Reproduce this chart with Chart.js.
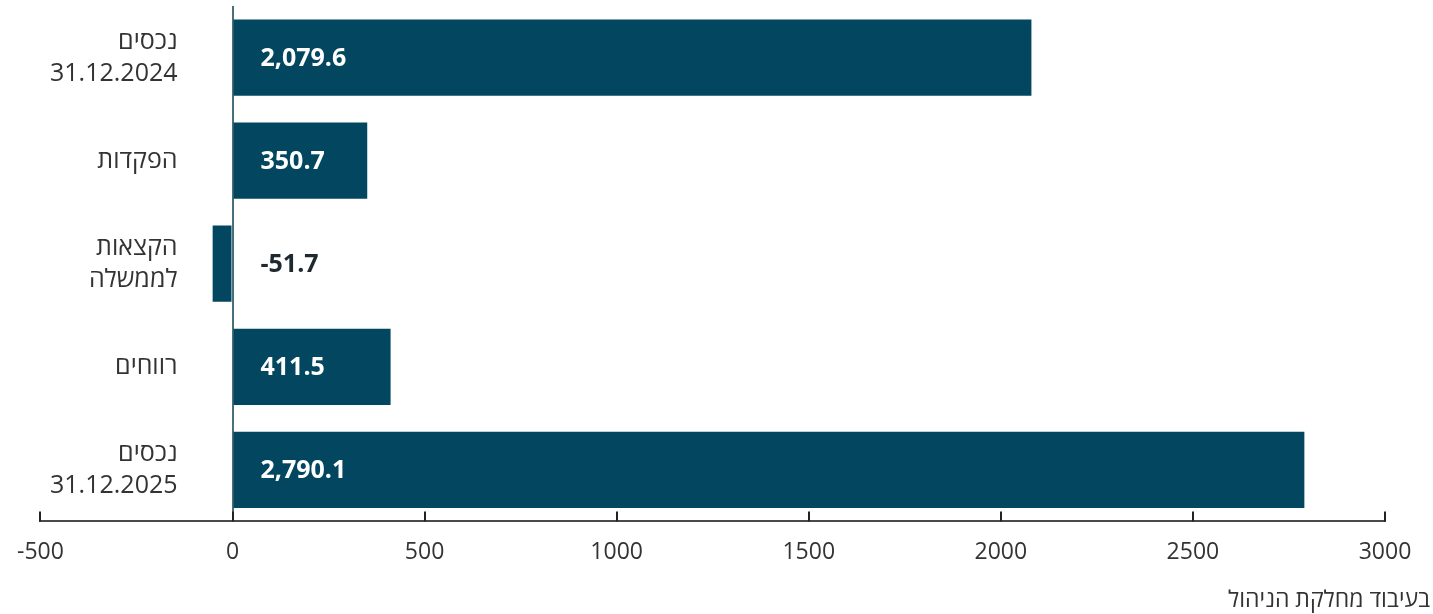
<!DOCTYPE html>
<html>
<head>
<meta charset="utf-8">
<script src="https://cdn.jsdelivr.net/npm/chart.js@4.4.1/dist/chart.umd.min.js"></script>
<style>
html, body { margin: 0; padding: 0; background: #fff; }
#wrap { position: relative; width: 1433px; height: 614px; }
#note { position: absolute; right: 3px; bottom: 0px; font: 23px "Open Sans", "DejaVu Sans", sans-serif; color: #333; direction: rtl; }
</style>
</head>
<body>
<div id="wrap">
  <canvas id="flowChart" width="1433" height="614"></canvas>
  <div id="note">בעיבוד מחלקת הניהול</div>
</div>
<script>
// data
const categories = [['נכסים', '31.12.2024'], ['הפקדות'], ['הקצאות', 'לממשלה'], ['רווחים'], ['נכסים', '31.12.2025']];
const values = [2079.6, 350.7, -51.7, 411.5, 2790.1];
const valueLabels = ['2,079.6', '350.7', '-51.7', '411.5', '2,790.1'];
const xTicks = [-500, 0, 500, 1000, 1500, 2000, 2500, 3000];

const barColor = '#02475f';
const textColor = '#333333';
const fontFamily = '"Open Sans", "DejaVu Sans", sans-serif';

// category names, value labels and inward tick marks
const labelPlugin = {
    id: 'labelPlugin',
    afterDatasetsDraw(chart) {
        const ctx = chart.ctx;
        const x = chart.scales.x;
        const y = chart.scales.y;
        const zero = x.getPixelForValue(0);
        ctx.save();
        ctx.direction = 'ltr';

        // tick marks pointing up from the axis line
        ctx.strokeStyle = '#222';
        ctx.lineWidth = 2;
        x.ticks.forEach(t => {
            const px = Math.round(x.getPixelForValue(t.value));
            ctx.beginPath();
            ctx.moveTo(px, x.top - 10);
            ctx.lineTo(px, x.top);
            ctx.stroke();
        });

        // category labels, right aligned left of the zero line
        ctx.font = '25px ' + fontFamily;
        ctx.fillStyle = textColor;
        ctx.textAlign = 'right';
        ctx.textBaseline = 'middle';
        categories.forEach((lines, i) => {
            const cy = y.getPixelForValue(i);
            const lh = 32;
            const start = cy - (lines.length - 1) * lh / 2;
            lines.forEach((line, j) => ctx.fillText(line, zero - 55, start + j * lh));
        });

        // value labels
        ctx.font = 'bold 25px ' + fontFamily;
        ctx.textAlign = 'left';
        values.forEach((v, i) => {
            ctx.fillStyle = v < 0 ? '#1f2a30' : '#ffffff';
            ctx.fillText(valueLabels[i], zero + 28, y.getPixelForValue(i) + 1);
        });
        ctx.restore();
    }
};

const ctx = document.getElementById('flowChart').getContext('2d');
const flowChart = new Chart(ctx, {
    type: 'bar',
    data: {
        labels: categories,
        datasets: [{
            data: values,
            backgroundColor: barColor,
            borderWidth: 0,
            barPercentage: 0.74,
            categoryPercentage: 1
        }]
    },
    options: {
        indexAxis: 'y',
        responsive: false,
        animation: false,
        layout: {
            padding: { left: 33, right: 48, top: 6, bottom: 31 }
        },
        plugins: {
            legend: { display: false },
            tooltip: { enabled: false }
        },
        scales: {
            x: {
                min: xTicks[0],
                max: xTicks[xTicks.length - 1],
                afterBuildTicks: scale => {
                    scale.ticks = xTicks.map(v => ({ value: v }));
                },
                grid: {
                    drawTicks: false,
                    lineWidth: 2,
                    color: c => (c.tick && c.tick.value === 0 ? '#4b6f7c' : 'rgba(0,0,0,0)')
                },
                border: { display: true, color: '#4a4a4a', width: 2 },
                ticks: {
                    padding: 17,
                    color: textColor,
                    font: { size: 23, family: fontFamily },
                    callback: v => String(v)
                }
            },
            y: {
                display: false
            }
        }
    },
    plugins: [labelPlugin]
});
</script>
</body>
</html>
